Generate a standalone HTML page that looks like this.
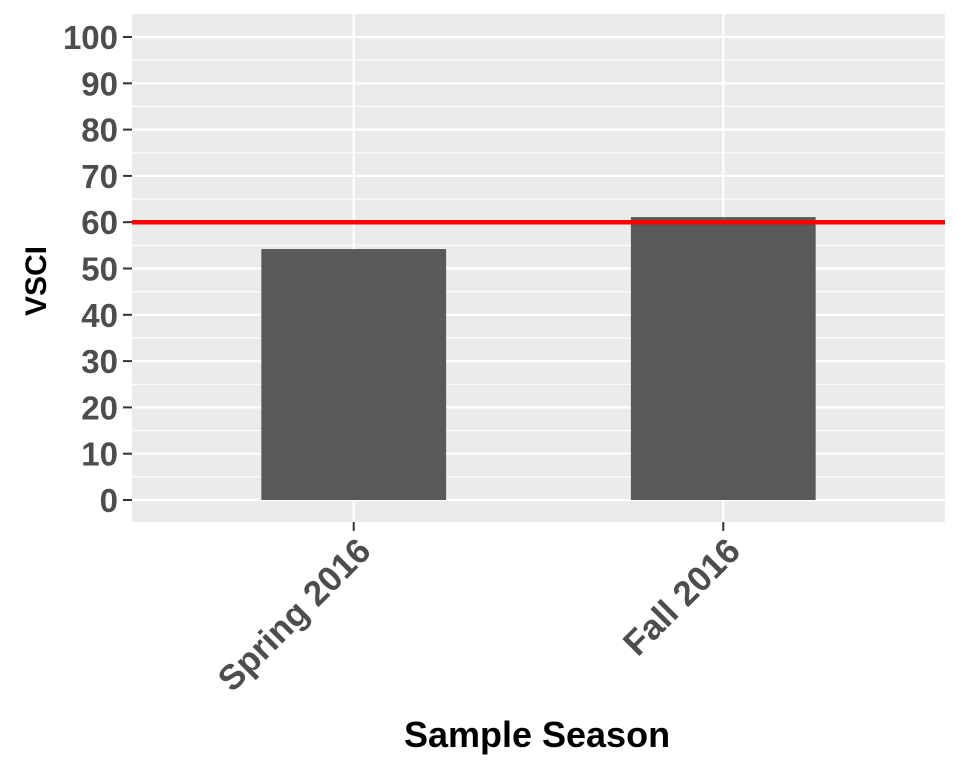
<!DOCTYPE html>
<html><head><meta charset="utf-8"><style>
html,body{margin:0;padding:0;background:#fff;}
svg{display:block;font-family:"Liberation Sans",Arial,sans-serif;font-weight:bold;}
</style></head><body>
<svg id="chart" width="960" height="768" xmlns="http://www.w3.org/2000/svg">
<rect x="132" y="14" width="813" height="508" fill="#ebebeb"/>
<g id="grid"></g><g id="bars"></g><g id="axes"></g>
<text x="537" y="747" font-size="36" text-anchor="middle" fill="#000">Sample Season</text>
<text transform="translate(46,281) rotate(-90)" font-size="30" text-anchor="middle" fill="#000">VSCI</text>
</svg>
<script>
const categories = ["Spring 2016", "Fall 2016"];
const values = [54.2, 61.1];
const yTicks = [0,10,20,30,40,50,60,70,80,90,100];
const threshold = [60];
const NS="http://www.w3.org/2000/svg";
const y0=500, pxPer=4.63;
function y(v){return y0 - v*pxPer;}
function x(i){return 132 + 813*(0.6 + i)/2.2;}
function mk(tag,attrs,parent){const e=document.createElementNS(NS,tag);for(const k in attrs)e.setAttribute(k,attrs[k]);parent.appendChild(e);return e;}
const grid=document.getElementById('grid'),bars=document.getElementById('bars'),axes=document.getElementById('axes');
for(let i=0;i<yTicks.length;i++){
  const v=yTicks[i];
  const g=mk('line',{x1:132,x2:945,y1:y(v),y2:y(v),stroke:'#fff','stroke-width':2.2},grid);
  
  
  if(i<yTicks.length-1){
    const m=mk('line',{x1:132,x2:945,y1:y(v+5),y2:y(v+5),stroke:'#fff','stroke-width':1.1},grid);
    
    
  }
  const t=mk('line',{x1:123,x2:132,y1:y(v),y2:y(v),stroke:'#333','stroke-width':2},axes);
  
  
  const l=mk('text',{x:118,y:y(v)+12,'font-size':33,'text-anchor':'end',fill:'#4d4d4d'},axes);
  l.textContent=v;
  
  
}
categories.forEach((c,i)=>{
  const cx=x(i);
  const g=mk('line',{x1:cx,x2:cx,y1:14,y2:522,stroke:'#fff','stroke-width':2.2},grid);
  
  
  const w=813*0.5/2.2;
  const b=mk('rect',{x:cx-w/2,y:y(values[i]),width:w,height:y(0)-y(values[i]),fill:'#595959'},bars);
  
  
  const t=mk('line',{x1:cx,x2:cx,y1:522,y2:531,stroke:'#333','stroke-width':2},axes);
  
  
  const l=mk('text',{transform:`translate(${cx+19},${553}) rotate(-45)`,'font-size':35,'text-anchor':'end',fill:'#4d4d4d'},axes);
  l.textContent=c;
  
  
});
threshold.forEach(v=>{
  const r=mk('line',{x1:132,x2:945,y1:y(v),y2:y(v),stroke:'#ff0000','stroke-width':4.5},bars);
  
  
});
</script>
</body></html>
